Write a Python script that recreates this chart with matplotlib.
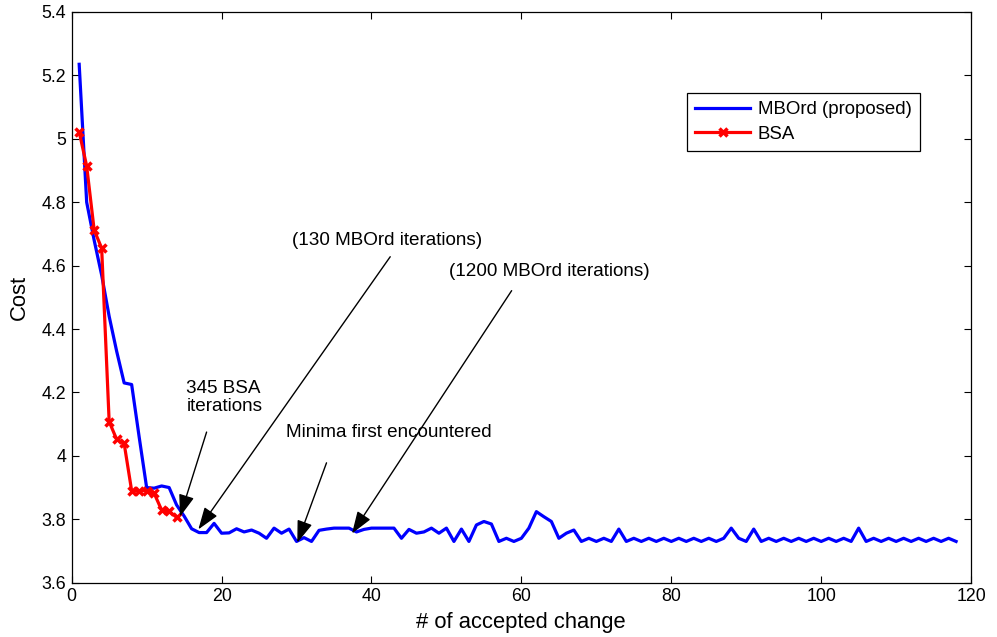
import numpy as np
import matplotlib
matplotlib.use('Agg')
import matplotlib.pyplot as plt

plt.rcParams['font.family'] = ['Liberation Sans', 'DejaVu Sans']

# MBOrd (proposed) cost per accepted change, x = 1..118
mbord_cost = [5.235, 4.80, 4.68, 4.57, 4.44, 4.33, 4.23, 4.225, 4.06, 3.90,
              3.898, 3.905, 3.90, 3.845, 3.81, 3.77, 3.758, 3.758, 3.787, 3.756,
              3.757, 3.77, 3.76, 3.766, 3.756, 3.74, 3.772, 3.756, 3.769, 3.73,
              3.742, 3.73, 3.765, 3.769, 3.772, 3.772, 3.772, 3.76, 3.768, 3.772,
              3.772, 3.772, 3.772, 3.74, 3.768, 3.756, 3.76, 3.772, 3.756, 3.772,
              3.73, 3.769, 3.73, 3.782, 3.793, 3.785, 3.73, 3.74, 3.73, 3.74,
              3.772, 3.824, 3.808, 3.793, 3.74, 3.756, 3.766, 3.73, 3.74, 3.73,
              3.74, 3.73, 3.769, 3.73, 3.74, 3.73, 3.74, 3.73, 3.74, 3.73,
              3.74, 3.73, 3.74, 3.73, 3.74, 3.73, 3.74, 3.772, 3.74, 3.73,
              3.769, 3.73, 3.74, 3.73, 3.74, 3.73, 3.74, 3.73, 3.74, 3.73,
              3.74, 3.73, 3.74, 3.73, 3.772, 3.73, 3.74, 3.73, 3.74, 3.73,
              3.74, 3.73, 3.74, 3.73, 3.74, 3.73, 3.74, 3.73]
mbord_x = np.arange(1, len(mbord_cost) + 1)

# BSA cost per accepted change, x = 1..14
bsa_cost = [5.022, 4.914, 4.712, 4.655, 4.108, 4.052, 4.039, 3.89, 3.89, 3.89,
            3.882, 3.829, 3.825, 3.806]
bsa_x = np.arange(1, len(bsa_cost) + 1)

x_ticks = [0, 20, 40, 60, 80, 100, 120]
y_ticks = [3.6, 3.8, 4.0, 4.2, 4.4, 4.6, 4.8, 5.0, 5.2, 5.4]
y_tick_labels = ['3.6', '3.8', '4', '4.2', '4.4', '4.6', '4.8', '5', '5.2', '5.4']

# annotations: (text, text position, arrow tail, arrow head)
notes = [
    ('345 BSA\niterations', (15.3, 4.238), (18.0, 4.075), (14.45, 3.808)),
    ('(130 MBOrd iterations)', (42.1, 4.678), (42.5, 4.628), (16.9, 3.768)),
    ('(1200 MBOrd iterations)', (63.7, 4.58), (58.7, 4.521), (37.4, 3.755)),
    ('Minima first encountered', (42.3, 4.075), (34.0, 3.978), (30.1, 3.726)),
]

fig = plt.figure(figsize=(9.97, 6.37), dpi=100)
ax = fig.add_axes([0.0719, 0.0853, 0.9021, 0.8959])

ax.plot(mbord_x, mbord_cost, color='blue', lw=2.3, label='MBOrd (proposed)')
ax.plot(bsa_x, bsa_cost, color='red', lw=2.3, marker='x', markersize=6,
        markeredgewidth=2.5, label='BSA')

ax.set_xlim(0, 120)
ax.set_ylim(3.6, 5.4)
ax.set_xticks(x_ticks)
ax.set_yticks(y_ticks)
ax.set_yticklabels(y_tick_labels)
ax.tick_params(direction='in', length=5, width=0.8, labelsize=12.8,
               top=True, right=True, pad=4)
for s in ax.spines.values():
    s.set_linewidth(0.9)

ax.set_xlabel('# of accepted change', fontsize=15.8)
ax.set_ylabel('Cost', fontsize=15.8)
ax.xaxis.set_label_coords(0.4996, -0.052)
ax.yaxis.set_label_coords(-0.046, 0.5)

for i, (txt, tpos, tail, head) in enumerate(notes):
    if i == 0:
        ax.text(tpos[0], tpos[1], txt, fontsize=13.6, ha='left', va='top',
                linespacing=1.05)
    else:
        ax.text(tpos[0], tpos[1], txt, fontsize=13.6, ha='center', va='center')
    ax.annotate('', xy=head, xytext=tail,
                arrowprops=dict(arrowstyle='-|>,head_length=0.8,head_width=0.28',
                                color='black', lw=1.0, mutation_scale=17,
                                shrinkA=0, shrinkB=0))

leg = ax.legend(loc='upper left', bbox_to_anchor=(0.684, 0.858), borderaxespad=0,
                fontsize=13.4, fancybox=False, framealpha=1, edgecolor='black',
                handlelength=2.95, handletextpad=0.4, numpoints=1,
                borderpad=0.45, labelspacing=0.4)
leg.get_frame().set_linewidth(0.9)

plt.savefig('out.png', dpi=100)
